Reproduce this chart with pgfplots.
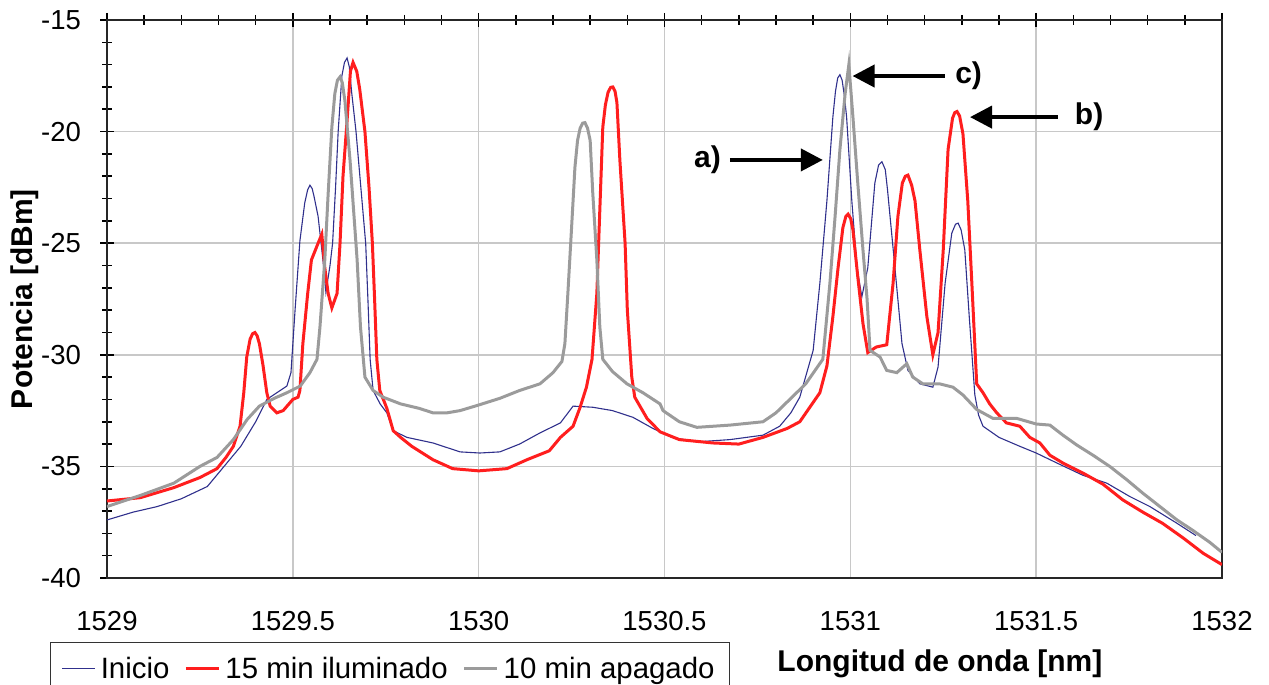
\documentclass[border=0pt]{standalone}
\usepackage{fontspec}
\setmainfont{Liberation Sans}
\usepackage{pgfplots}
\pgfplotsset{compat=1.18}
\usetikzlibrary{arrows.meta}
\definecolor{cnavy}{RGB}{48,48,140}
\definecolor{cred}{RGB}{255,30,30}
\definecolor{cgray}{RGB}{155,155,155}
\definecolor{cgrid}{RGB}{200,200,200}
\begin{document}
\begin{tikzpicture}
\begin{axis}[
  name=ax, at={(0pt,0pt)}, anchor=south west,
  scale only axis, width=557.5pt, height=279pt,
  xmin=1529, xmax=1532, ymin=-40, ymax=-15,
  xtick={1529,1529.5,1530,1530.5,1531,1531.5,1532},
  xticklabels={1529,1529.5,1530,1530.5,1531,1531.5,1532},
  ytick={-40,-35,-30,-25,-20,-15},
  yticklabels={-40,-35,-30,-25,-20,-15},
  minor x tick num=4, minor y tick num=4,
  xtick pos=upper, xticklabel pos=lower,
  ytick pos=left, yticklabel pos=left,
  tick align=center,
  major tick length=7pt, minor tick length=5pt,
  every tick/.style={black, line width=0.8pt},
  grid=major,
  major grid style={cgrid, line width=0.75pt},
  axis line style={black!85, line width=1pt},
  ticklabel style={font=\fontsize{13.75}{16}\selectfont},
  xticklabel shift=9.5pt, yticklabel shift=6pt,
  xlabel={Longitud de onda [nm]},
  ylabel={Potencia [dBm]},
  every axis x label/.style={at={(rel axis cs:0.747,-0.154)}, anchor=center, font=\fontsize{15}{18}\selectfont\bfseries},
  every axis y label/.style={at={(rel axis cs:-0.0735,0.5)}, anchor=center, rotate=90, font=\fontsize{15}{18}\selectfont\bfseries},
  legend columns=3,
  legend style={at={(rel axis cs:-0.0511,-0.1147)}, anchor=north west,
    draw=black!80, line width=0.7pt, fill=white,
    font=\fontsize{14.7}{17}\selectfont,
    inner xsep=5.5pt, inner ysep=5pt,
    /tikz/every odd column/.append style={column sep=0.5pt},
    /tikz/every even column/.append style={column sep=5.5pt}},
  legend image code/.code={\draw[#1] (0pt,0pt) -- (16.5pt,0pt);},
  clip=true,
]
\addplot[cnavy, line width=0.55pt] coordinates {
(1529.000,-37.40) (1529.070,-37.05) (1529.135,-36.80) (1529.200,-36.45) (1529.270,-35.90)
(1529.315,-35.00) (1529.360,-34.10) (1529.400,-33.00) (1529.430,-32.00) (1529.457,-31.70)
(1529.484,-31.40) (1529.495,-30.80) (1529.506,-28.00) (1529.519,-24.90) (1529.532,-23.20)
(1529.540,-22.60) (1529.546,-22.40) (1529.552,-22.55) (1529.557,-22.90) (1529.568,-23.80)
(1529.581,-25.75) (1529.589,-27.20)
(1529.600,-26.00) (1529.607,-25.00) (1529.615,-22.50) (1529.622,-20.00) (1529.632,-17.50)
(1529.639,-16.90) (1529.646,-16.70) (1529.652,-17.10) (1529.658,-18.20) (1529.670,-20.00) (1529.683,-22.50) (1529.696,-25.00)
(1529.702,-27.50) (1529.708,-30.20) (1529.716,-31.60) (1529.735,-32.20) (1529.753,-32.60)
(1529.770,-33.40) (1529.807,-33.70) (1529.877,-33.95) (1529.950,-34.35) (1530.003,-34.40)
(1530.057,-34.35) (1530.110,-34.00) (1530.165,-33.50) (1530.220,-33.05) (1530.254,-32.30)
(1530.307,-32.35) (1530.360,-32.50) (1530.415,-32.80) (1530.469,-33.30) (1530.520,-33.70)
(1530.587,-33.90) (1530.676,-33.80) (1530.765,-33.60) (1530.810,-33.20) (1530.840,-32.60)
(1530.864,-31.90) (1530.900,-29.80) (1530.918,-26.80) (1530.937,-23.10) (1530.953,-19.35)
(1530.960,-18.20) (1530.966,-17.60) (1530.972,-17.45) (1530.978,-17.70) (1530.984,-18.40) (1530.990,-19.35) (1531.004,-23.10)
(1531.018,-26.10) (1531.031,-27.40) (1531.047,-26.10) (1531.066,-22.30) (1531.076,-21.50)
(1531.085,-21.35) (1531.094,-21.70) (1531.100,-22.60) (1531.120,-26.10) (1531.139,-29.50)
(1531.155,-30.70) (1531.187,-31.30) (1531.222,-31.45) (1531.236,-30.55) (1531.255,-26.80)
(1531.273,-24.55) (1531.283,-24.15) (1531.290,-24.10) (1531.298,-24.40) (1531.308,-25.30) (1531.320,-28.30) (1531.335,-31.80)
(1531.345,-32.70) (1531.357,-33.20) (1531.400,-33.70) (1531.456,-34.10) (1531.500,-34.40)
(1531.556,-34.85) (1531.626,-35.40) (1531.690,-35.75) (1531.752,-36.35) (1531.806,-36.80)
(1531.879,-37.55) (1531.930,-38.10)
};
\addlegendentry{Inicio}
\addplot[cred, line width=1.5pt] coordinates {
(1529.000,-36.55) (1529.090,-36.40) (1529.180,-35.95) (1529.250,-35.50) (1529.296,-35.10)
(1529.320,-34.60) (1529.340,-34.10) (1529.358,-33.20) (1529.368,-31.70) (1529.376,-30.10)
(1529.385,-29.30) (1529.392,-29.05) (1529.398,-29.00) (1529.404,-29.15) (1529.410,-29.50) (1529.420,-30.50) (1529.430,-31.70)
(1529.439,-32.30) (1529.457,-32.60) (1529.474,-32.50) (1529.500,-32.00) (1529.514,-31.90)
(1529.519,-31.60) (1529.527,-29.50) (1529.540,-27.25) (1529.550,-25.75) (1529.568,-25.00)
(1529.578,-24.60) (1529.586,-26.10) (1529.595,-27.25) (1529.605,-27.90) (1529.619,-27.25)
(1529.627,-25.00) (1529.635,-22.00) (1529.646,-19.50) (1529.655,-17.30) (1529.662,-16.90)
(1529.672,-17.30) (1529.680,-18.10) (1529.694,-20.00) (1529.705,-22.50) (1529.714,-25.00)
(1529.720,-27.50) (1529.726,-30.20) (1529.734,-31.60) (1529.753,-32.40) (1529.770,-33.40)
(1529.790,-33.70) (1529.820,-34.10) (1529.877,-34.70) (1529.930,-35.10) (1530.000,-35.20)
(1530.076,-35.10) (1530.130,-34.70) (1530.190,-34.30) (1530.220,-33.70) (1530.254,-33.20)
(1530.273,-32.35) (1530.290,-31.45) (1530.305,-30.20) (1530.318,-27.25) (1530.326,-23.50)
(1530.334,-19.80) (1530.341,-18.80) (1530.348,-18.25) (1530.355,-18.02) (1530.361,-18.00) (1530.367,-18.20) (1530.372,-18.70) (1530.380,-21.30)
(1530.394,-25.00) (1530.400,-28.00) (1530.412,-31.00) (1530.420,-31.90) (1530.453,-32.85)
(1530.488,-33.45) (1530.540,-33.80) (1530.630,-33.95) (1530.700,-34.00) (1530.765,-33.70)
(1530.830,-33.30) (1530.864,-33.00) (1530.918,-31.70) (1530.937,-30.50) (1530.953,-28.30)
(1530.967,-26.10) (1530.980,-24.30) (1530.988,-23.80) (1530.994,-23.70) (1531.001,-23.90) (1531.007,-24.40) (1531.020,-26.50)
(1531.034,-28.60) (1531.047,-29.90) (1531.070,-29.65) (1531.098,-29.55) (1531.115,-26.80)
(1531.128,-23.80) (1531.140,-22.30) (1531.148,-22.00) (1531.155,-21.95) (1531.165,-22.40) (1531.174,-23.10)
(1531.187,-25.30) (1531.206,-28.30) (1531.222,-30.00) (1531.236,-29.00) (1531.250,-25.30)
(1531.263,-20.80) (1531.275,-19.40) (1531.281,-19.15) (1531.287,-19.10) (1531.294,-19.30) (1531.303,-20.10) (1531.316,-23.10)
(1531.327,-26.80) (1531.340,-31.30) (1531.357,-31.70) (1531.375,-32.20) (1531.394,-32.60)
(1531.420,-33.05) (1531.456,-33.20) (1531.483,-33.70) (1531.510,-33.95) (1531.537,-34.50)
(1531.572,-34.85) (1531.626,-35.30) (1531.680,-35.80) (1531.733,-36.50) (1531.787,-37.05)
(1531.840,-37.55) (1531.895,-38.20) (1531.950,-38.90) (1532.000,-39.40)
};
\addlegendentry{15 min iluminado}
\addplot[cgray, line width=1.5pt] coordinates {
(1529.000,-36.80) (1529.090,-36.30) (1529.180,-35.75) (1529.250,-35.00) (1529.296,-34.60)
(1529.340,-33.80) (1529.377,-32.90) (1529.410,-32.30) (1529.450,-31.95) (1529.484,-31.70)
(1529.520,-31.40) (1529.546,-30.80) (1529.565,-30.20) (1529.573,-28.75) (1529.586,-25.75)
(1529.595,-22.80) (1529.605,-19.80) (1529.613,-18.30) (1529.620,-17.70) (1529.627,-17.55) (1529.633,-17.80) (1529.640,-18.60)
(1529.654,-21.30) (1529.673,-25.75) (1529.682,-28.75) (1529.694,-31.00) (1529.716,-31.60)
(1529.743,-31.90) (1529.790,-32.20) (1529.840,-32.40) (1529.877,-32.60) (1529.915,-32.60)
(1529.950,-32.50) (1530.000,-32.25) (1530.057,-31.95) (1530.110,-31.60) (1530.165,-31.30)
(1530.200,-30.80) (1530.224,-30.30) (1530.232,-29.50) (1530.240,-27.25) (1530.250,-24.30)
(1530.259,-21.60) (1530.266,-20.40) (1530.273,-19.85) (1530.280,-19.62) (1530.286,-19.60) (1530.293,-19.85) (1530.300,-20.40) (1530.307,-22.75)
(1530.318,-25.75) (1530.326,-28.75) (1530.334,-30.20) (1530.360,-30.75) (1530.399,-31.30)
(1530.442,-31.70) (1530.488,-32.20) (1530.496,-32.50) (1530.540,-33.00) (1530.587,-33.25)
(1530.676,-33.15) (1530.765,-33.00) (1530.800,-32.60) (1530.837,-32.00) (1530.880,-31.30)
(1530.926,-30.20) (1530.945,-26.80) (1530.959,-23.80) (1530.972,-20.80) (1530.986,-18.30)
(1530.996,-17.00) (1531.007,-19.35) (1531.020,-22.30) (1531.034,-25.30) (1531.045,-27.50)
(1531.053,-29.80) (1531.080,-30.10) (1531.098,-30.70) (1531.125,-30.80) (1531.152,-30.40)
(1531.168,-31.00) (1531.195,-31.30) (1531.240,-31.30) (1531.276,-31.45) (1531.303,-31.80)
(1531.340,-32.45) (1531.384,-32.85) (1531.448,-32.85) (1531.500,-33.10) (1531.537,-33.15)
(1531.572,-33.60) (1531.610,-34.05) (1531.653,-34.50) (1531.698,-35.00) (1531.744,-35.60)
(1531.787,-36.20) (1531.833,-36.80) (1531.879,-37.40) (1531.920,-37.85) (1531.967,-38.40)
(1532.000,-38.85)
};
\addlegendentry{10 min apagado}
% annotations
\draw[black, line width=2pt, -{Triangle[length=11pt,width=11pt]}] (axis cs:1530.676,-21.27) -- (axis cs:1530.926,-21.27);
\node[anchor=east, inner sep=1pt, font=\fontsize{15}{18}\selectfont\bfseries] at (axis cs:1530.658,-21.27) {a)};
\draw[black, line width=2pt, -{Triangle[length=11pt,width=11pt]}] (axis cs:1531.558,-19.35) -- (axis cs:1531.322,-19.35);
\node[anchor=west, inner sep=1pt, font=\fontsize{15}{18}\selectfont\bfseries] at (axis cs:1531.598,-19.35) {b)};
\draw[black, line width=2pt, -{Triangle[length=11pt,width=11pt]}] (axis cs:1531.254,-17.51) -- (axis cs:1531.006,-17.51);
\node[anchor=west, inner sep=1pt, font=\fontsize{15}{18}\selectfont\bfseries] at (axis cs:1531.276,-17.51) {c)};
\end{axis}
\pgfresetboundingbox
\path[use as bounding box] ([shift={(-53.5pt,-53.5pt)}]ax.south west) rectangle ([shift={(23.5pt,10pt)}]ax.north east);
\end{tikzpicture}
\end{document}
